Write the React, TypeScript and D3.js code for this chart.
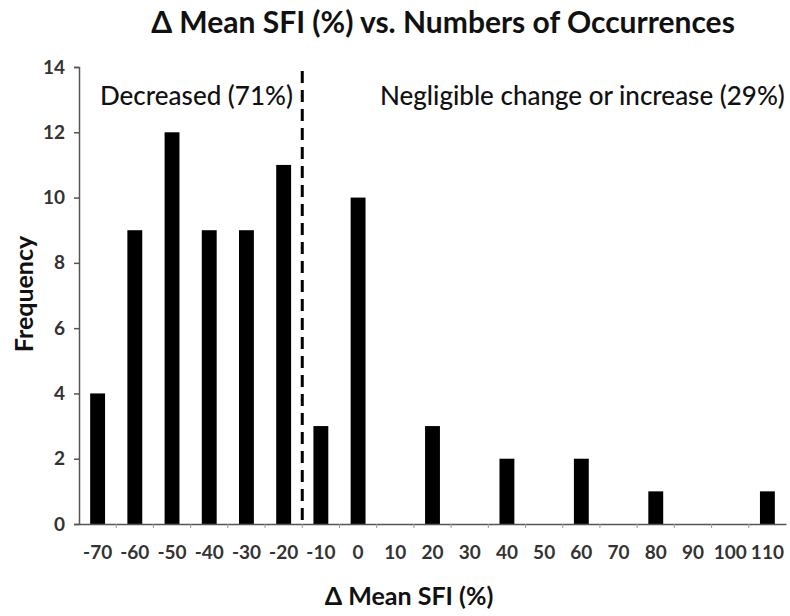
import React, { useEffect, useRef } from "react";
import * as d3 from "d3";

// bin labels (Δ Mean SFI %) and counts
const categories = ["-70", "-60", "-50", "-40", "-30", "-20", "-10", "0", "10", "20", "30", "40", "50", "60", "70", "80", "90", "100", "110"];
const frequencies = [4, 9, 12, 9, 9, 11, 3, 10, 0, 3, 0, 2, 0, 2, 0, 1, 0, 0, 1];
const yTicks = [0, 2, 4, 6, 8, 10, 12, 14];

const FONT = "Lato, 'Open Sans', sans-serif";

export default function App() {
  const ref = useRef<SVGSVGElement>(null);

  useEffect(() => {
    const svg = d3.select(ref.current);
    svg.selectAll("*").remove(); //clear previous render

    const left = 79, right = 786, top = 67, bottom = 524;

    const x = d3.scaleBand<string>()
      .domain(categories)
      .range([left, right])
      .paddingInner(0.6)
      .paddingOuter(0.3);

    const y = d3.scaleLinear().domain([0, 14]).range([bottom, top]);

    //bars
    svg.append("g")
      .selectAll("rect")
      .data(categories)
      .join("rect")
      .attr("x", d => x(d)!)
      .attr("width", x.bandwidth())
      .attr("y", (d, i) => y(frequencies[i]))
      .attr("height", (d, i) => bottom - y(frequencies[i]))
      .attr("fill", "#000");

    //y axis
    const yAxis = d3.axisLeft(y).tickValues(yTicks).tickSize(5).tickPadding(9);
    const gy = svg.append("g").attr("transform", `translate(${left},0)`).call(yAxis);
    gy.select(".domain").attr("stroke", "#555").attr("stroke-width", 1.5);
    gy.selectAll(".tick line").attr("stroke", "#555").attr("stroke-width", 1.5);
    gy.selectAll(".tick text")
      .attr("font-family", FONT)
      .attr("font-size", 19)
      .attr("font-weight", 700)
      .attr("fill", "#333");

    //x axis
    const xAxis = d3.axisBottom(x).tickSize(0).tickPadding(22);
    const gx = svg.append("g").attr("transform", `translate(0,${bottom})`).call(xAxis);
    gx.select(".domain").attr("stroke", "#555").attr("stroke-width", 1.5);
    gx.selectAll(".tick text")
      .attr("font-family", FONT)
      .attr("font-size", 19)
      .attr("font-weight", 700)
      .attr("fill", "#333");

    //small category-boundary tick marks on the x axis
    const step = x.step();
    svg.append("g")
      .selectAll("line")
      .data(categories.slice(1))
      .join("line")
      .attr("x1", d => x(d)! + x.bandwidth() / 2 - step / 2)
      .attr("x2", d => x(d)! + x.bandwidth() / 2 - step / 2)
      .attr("y1", bottom)
      .attr("y2", bottom + 4)
      .attr("stroke", "#999")
      .attr("stroke-width", 1);

    //dashed divider between -20 and -10
    const divX = x("-10")! + x.bandwidth() / 2 - step / 2;
    svg.append("line")
      .attr("x1", divX).attr("x2", divX)
      .attr("y1", top + 4).attr("y2", bottom)
      .attr("stroke", "#000")
      .attr("stroke-width", 3)
      .attr("stroke-dasharray", "12,7");

    //annotations
    svg.append("text")
      .attr("x", 100).attr("y", 105)
      .attr("font-family", FONT).attr("font-size", 26).attr("font-weight", 500)
      .attr("fill", "#111")
      .text("Decreased (71%)");

    svg.append("text")
      .attr("x", 380).attr("y", 105)
      .attr("font-family", FONT).attr("font-size", 26).attr("font-weight", 500)
      .attr("fill", "#111")
      .text("Negligible change or increase (29%)");

    //title
    svg.append("text")
      .attr("x", 443).attr("y", 33)
      .attr("text-anchor", "middle")
      .attr("font-family", FONT).attr("font-size", 30).attr("font-weight", 700)
      .attr("fill", "#111")
      .text("Δ Mean SFI (%) vs. Numbers of Occurrences");

    //axis titles
    svg.append("text")
      .attr("x", 409).attr("y", 605)
      .attr("text-anchor", "middle")
      .attr("font-family", FONT).attr("font-size", 25).attr("font-weight", 700)
      .attr("fill", "#111")
      .text("Δ Mean SFI (%)");

    svg.append("text")
      .attr("transform", `translate(33,294) rotate(-90)`)
      .attr("text-anchor", "middle")
      .attr("font-family", FONT).attr("font-size", 25).attr("font-weight", 700)
      .attr("fill", "#111")
      .text("Frequency");
  }, []);

  return (
    <svg ref={ref} width={790} height={616} style={{ display: "block", position: "absolute", left: 0, top: 0, background: "#fff" }} />
  );
}
